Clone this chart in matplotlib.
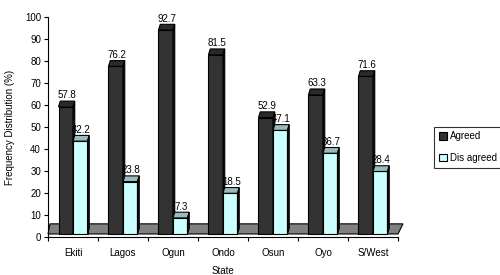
import matplotlib
matplotlib.use("Agg")
import matplotlib.pyplot as plt
from matplotlib.patches import Polygon, Rectangle

states = ["Ekiti", "Lagos", "Ogun", "Ondo", "Osun", "Oyo", "S/West"]
agreed = [57.8, 76.2, 92.7, 81.5, 52.9, 63.3, 71.6]
disagreed = [42.2, 23.8, 7.3, 18.5, 47.1, 36.7, 28.4]
yticks = list(range(0, 101, 10))

plt.rcParams['font.family'] = ['Liberation Sans', 'DejaVu Sans']
fig = plt.figure(figsize=(5, 2.75), dpi=100)
ax = fig.add_axes([0.096, 0.138, 0.70, 0.80])
ax.set_xlim(0, len(states))
ax.set_ylim(0, 100)

base = 1.4
dx, dy = 0.035, 2.6
w = 0.29

# floor
floor = Polygon([(0, base), (7, base), (7 + 0.1, base + 4.6), (0.04, base + 4.6)],
                closed=True, facecolor="#808080", edgecolor="black", lw=0.8, zorder=1,
                clip_on=False)
ax.add_patch(floor)

def bar3d(x0, val, face, cap, side):
    top = base + val
    ax.add_patch(Rectangle((x0, base), w, val, facecolor=face, edgecolor="black", lw=0.8, zorder=3))
    ax.add_patch(Polygon([(x0, top), (x0 + dx, top + dy), (x0 + w + dx, top + dy), (x0 + w, top)],
                         closed=True, facecolor=cap, edgecolor="black", lw=0.8, zorder=3))
    ax.add_patch(Polygon([(x0 + w, base), (x0 + w + dx, base + dy), (x0 + w + dx, top + dy), (x0 + w, top)],
                         closed=True, facecolor=side, edgecolor="black", lw=0.8, zorder=3))
    ax.text(x0 + w / 2 + 0.02, top + dy + 0.3, f"{val:.1f}", ha="center", va="bottom", fontsize=7, zorder=4)

for i, (a, d) in enumerate(zip(agreed, disagreed)):
    bar3d(i + 0.21, a, "#333333", "#2a2a2a", "#111111")
    bar3d(i + 0.50, d, "#ccffff", "#99bbbb", "#111111")

ax.set_yticks(yticks)
ax.set_yticklabels([str(t) for t in yticks], fontsize=7)
ax.set_xticks(range(0, len(states) + 1))
ax.set_xticklabels([])
ax.set_xticks([i + 0.5 for i in range(len(states))], minor=True)
ax.set_xticklabels(states, minor=True, fontsize=7)
ax.tick_params(axis='x', which='minor', length=0, pad=8)
ax.tick_params(axis='x', which='major', length=3, direction='out')
ax.tick_params(axis='y', length=3, direction='out', pad=2)
for s in ["top", "right"]:
    ax.spines[s].set_visible(False)
ax.spines["left"].set_linewidth(0.8)
ax.spines["bottom"].set_linewidth(0.8)

ax.set_ylabel("Frequency Distribution (%)", fontsize=7, labelpad=7)
ax.set_xlabel("State", fontsize=7, labelpad=6)

h1 = Rectangle((0, 0), 1, 1, facecolor="#333333", edgecolor="black", lw=0.8)
h2 = Rectangle((0, 0), 1, 1, facecolor="#ccffff", edgecolor="black", lw=0.8)
leg = fig.legend([h1, h2], ["Agreed", "Dis agreed"], loc="upper left",
                 bbox_to_anchor=(0.868, 0.54), fontsize=7, frameon=True, fancybox=False,
                 handlelength=0.8, handleheight=0.8, handletextpad=0.3, borderpad=0.5,
                 labelspacing=1.2, borderaxespad=0)
leg.get_frame().set_edgecolor("black")
leg.get_frame().set_linewidth(0.8)

fig.savefig("out.png", dpi=100)
